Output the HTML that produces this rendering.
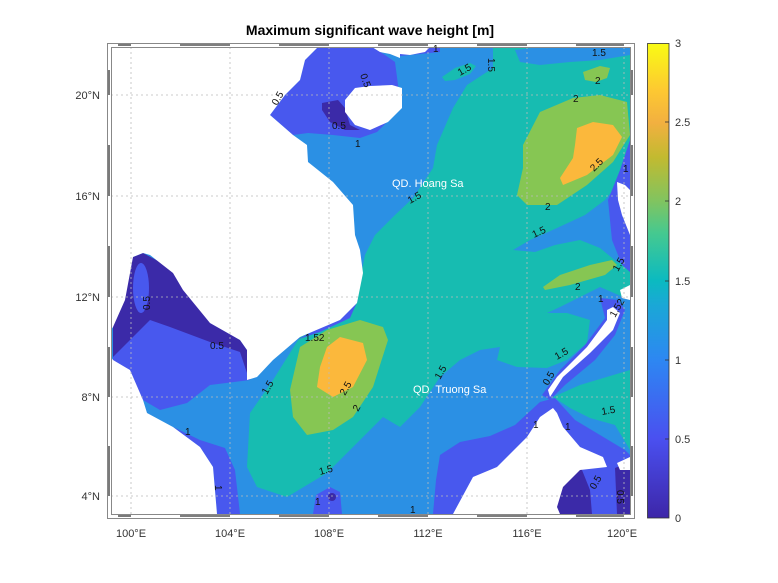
<!DOCTYPE html>
<html><head><meta charset="utf-8"><style>
body{margin:0;background:#fff;}
svg{display:block;font-family:"Liberation Sans",sans-serif;}
</style></head><body>
<svg width="778" height="583" viewBox="0 0 778 583" xmlns="http://www.w3.org/2000/svg">
<defs>
<linearGradient id="cb" x1="0" y1="1" x2="0" y2="0">
<stop offset="0" stop-color="#3d26a8"/>
<stop offset="0.167" stop-color="#4a50f0"/>
<stop offset="0.333" stop-color="#2d87f2"/>
<stop offset="0.45" stop-color="#1aa8d6"/>
<stop offset="0.5" stop-color="#0bbac0"/>
<stop offset="0.6" stop-color="#45c990"/>
<stop offset="0.667" stop-color="#80c460"/>
<stop offset="0.76" stop-color="#c2ba30"/>
<stop offset="0.833" stop-color="#f2b040"/>
<stop offset="0.9" stop-color="#fdc832"/>
<stop offset="1" stop-color="#f9fb14"/>
</linearGradient>
<clipPath id="clip"><rect x="111" y="47" width="519" height="467"/></clipPath>
</defs>
<text x="370" y="35" text-anchor="middle" font-size="14" font-weight="bold">Maximum significant wave height [m]</text>

<g clip-path="url(#clip)">
<rect x="111" y="47" width="519" height="467" fill="#2b90e4"/>
<!-- teal -->
<polygon fill="#17bcb1" points="493,47 630,47 630,300 600,287 580,297 560,307 547,313 567,313 590,320 587,343 567,360 547,368 517,367 497,360 500,347 480,350 460,360 440,377 420,407 400,427 383,417 353,447 327,473 287,497 257,487 247,467 250,413 273,380 300,337 340,322 352,305 360,280 365,255 375,235 395,215 413,198 433,168 437,145 453,108 467,85 493,68"/>
<polygon fill="#17bcb1" points="553,397 580,385 630,370 630,450 615,425 590,418 570,408"/>
<polygon fill="#17bcb1" points="442,77 455,68 470,63 476,66 470,74 455,80 445,81"/>
<!-- blue tongues -->
<polygon fill="#2b90e4" points="515,50 540,47 630,47 630,55 600,60 570,62 540,65 520,62"/>
<polygon fill="#2b90e4" points="513,250 530,240 557,228 585,215 605,200 617,185 630,165 630,268 617,262 600,248 580,240 555,245 535,252"/>
<!-- greens -->
<polygon fill="#86c653" points="523,145 540,112 573,98 600,95 627,102 630,135 613,162 587,185 557,205 527,205 517,195 523,168"/>
<polygon fill="#86c653" points="583,72 600,66 610,68 607,78 596,82 585,80"/>
<polygon fill="#86c653" points="543,287 560,275 590,265 612,260 617,265 605,275 570,285 545,290"/>
<polygon fill="#86c653" points="290,390 300,347 327,330 360,320 383,327 388,340 373,387 353,417 333,430 307,435 293,417"/>
<!-- orange -->
<polygon fill="#fbb83c" points="577,128 593,122 613,125 622,137 613,155 587,175 563,185 560,178 573,158 575,145"/>
<polygon fill="#fbb83c" points="327,347 340,337 363,343 367,360 353,387 333,397 317,387 320,367"/>
<!-- periwinkle -->
<polygon fill="#4858ee" points="270,115 285,95 300,80 305,60 318,47 372,47 385,55 395,62 400,100 393,112 387,122 377,132 360,138 333,135 308,133 293,135"/>
<polygon fill="#4858ee" points="380,47 440,47 440,52 400,56"/>
<polygon fill="#4858ee" points="113,320 133,257 175,270 247,350 250,380 210,385 187,403 160,410 143,400 113,360"/>
<polygon fill="#4858ee" points="173,427 200,440 225,448 235,470 240,514 217,514 213,467 200,447"/>
<polygon fill="#4858ee" points="433,514 436,480 440,455 460,442 490,436 515,425 540,402 555,398 575,420 600,435 625,450 630,455 630,514"/>
<polygon fill="#4858ee" points="313,514 316,495 330,487 340,492 342,514"/>
<polygon fill="#4858ee" points="630,140 620,170 608,200 612,240 622,265 630,272"/>
<polygon fill="#4858ee" points="600,298 618,300 625,310 615,335 595,360 565,385 550,400 542,395 560,370 585,345 605,318"/>
<polygon fill="#4858ee" points="296,340 340,318 352,305 358,300 350,318 320,332"/>
<!-- dark -->
<polygon fill="#3b2aa8" points="322,103 338,100 345,108 350,125 360,130 345,130 330,122 322,110"/>
<polygon fill="#3b2aa8" points="113,320 133,257 143,253 175,270 185,290 210,323 240,340 247,350 247,373 240,352 210,342 170,327 150,320 130,340 113,357"/>
<ellipse cx="141" cy="288" rx="8" ry="25" fill="#4858ee"/>
<polygon fill="#3b2aa8" points="540,470 580,465 590,490 592,514 555,514 545,495"/>
<polygon fill="#3b2aa8" points="615,468 630,462 630,514 617,514"/>
<circle cx="332" cy="497" r="4" fill="#3b2aa8"/>
<!-- land -->
<polygon fill="#fff" points="111,47 318,47 305,60 300,80 285,95 270,115 293,135 307,145 308,162 333,182 353,205 355,235 360,250 363,273 357,303 340,320 300,337 273,360 257,377 247,380 247,350 240,340 210,323 183,290 173,273 150,255 143,253 133,257 125,300 113,327 111,330"/>
<polygon fill="#fff" points="111,357 113,360 130,370 143,400 147,413 173,427 200,447 213,467 217,514 111,514"/>
<polygon fill="#fff" points="345,100 355,88 370,86 392,85 402,88 402,108 388,122 370,130 355,125 345,112"/>
<polygon fill="#fff" points="372,47 400,47 400,58 390,54 380,52"/>
<polygon fill="#fff" points="400,47 430,47 425,52 410,55 400,54"/>
<polygon fill="#fff" points="453,514 473,477 497,467 527,437 540,417 553,408 557,413 563,427 580,447 603,457 607,467 580,470 563,487 557,507 560,514"/>
<polygon fill="#fff" points="613,307 620,313 613,330 590,353 563,377 550,397 548,390 557,377 587,347 607,320 607,310"/>
<polygon fill="#fff" points="617,182 625,185 630,190 630,235 622,215 618,200"/>
<polygon fill="#fff" points="617,463 630,457 630,470 620,470"/>
<polygon fill="#fff" points="620,290 630,285 630,300 622,298"/>
</g>
<!-- grid -->
<g stroke="#bbb" stroke-width="0.8" stroke-dasharray="2,3">
<line x1="131" y1="47" x2="131" y2="514"/><line x1="230" y1="47" x2="230" y2="514"/><line x1="329" y1="47" x2="329" y2="514"/><line x1="428" y1="47" x2="428" y2="514"/><line x1="527" y1="47" x2="527" y2="514"/><line x1="624" y1="47" x2="624" y2="514"/>
<line x1="111" y1="95" x2="630" y2="95"/><line x1="111" y1="196" x2="630" y2="196"/><line x1="111" y1="297" x2="630" y2="297"/><line x1="111" y1="397" x2="630" y2="397"/><line x1="111" y1="496" x2="630" y2="496"/>
</g>
<!-- frame -->
<g fill="none" stroke="#888" stroke-width="1">
<rect x="107.5" y="43.5" width="527" height="475"/>
<rect x="111.5" y="47.5" width="519" height="467"/>
</g>
<g stroke="#333" stroke-width="1.3">
<line x1="118" y1="516" x2="131" y2="516"/><line x1="180" y1="516" x2="230" y2="516"/><line x1="279" y1="516" x2="329" y2="516"/><line x1="378" y1="516" x2="428" y2="516"/><line x1="477" y1="516" x2="527" y2="516"/><line x1="576" y1="516" x2="624" y2="516"/>
<line x1="118" y1="45" x2="131" y2="45"/><line x1="180" y1="45" x2="230" y2="45"/><line x1="279" y1="45" x2="329" y2="45"/><line x1="378" y1="45" x2="428" y2="45"/><line x1="477" y1="45" x2="527" y2="45"/><line x1="576" y1="45" x2="624" y2="45"/>
<line x1="109" y1="70" x2="109" y2="95"/><line x1="109" y1="145" x2="109" y2="196"/><line x1="109" y1="246" x2="109" y2="297"/><line x1="109" y1="347" x2="109" y2="397"/><line x1="109" y1="446" x2="109" y2="496"/>
<line x1="632" y1="70" x2="632" y2="95"/><line x1="632" y1="145" x2="632" y2="196"/><line x1="632" y1="246" x2="632" y2="297"/><line x1="632" y1="347" x2="632" y2="397"/><line x1="632" y1="446" x2="632" y2="496"/>
</g>
<!-- axis labels -->
<g font-size="11" fill="#333" text-anchor="middle">
<text x="131" y="537">100°E</text><text x="230" y="537">104°E</text><text x="329" y="537">108°E</text><text x="428" y="537">112°E</text><text x="527" y="537">116°E</text><text x="622" y="537">120°E</text>
</g>
<g font-size="11" fill="#333" text-anchor="end">
<text x="100" y="99">20°N</text><text x="100" y="200">16°N</text><text x="100" y="301">12°N</text><text x="100" y="401">8°N</text><text x="100" y="500">4°N</text>
</g>
<!-- annotations -->
<text x="392" y="187" font-size="11" fill="#fff">QD. Hoang Sa</text>
<text x="413" y="393" font-size="11" fill="#fff">QD. Truong Sa</text>
<g font-size="10" fill="#111">
<text x="460" y="76" transform="rotate(-30 460 76)">1.5</text>
<text x="488" y="58" transform="rotate(90 488 58)">1.5</text>
<text x="592" y="56">1.5</text>
<text x="595" y="84">2</text>
<text x="573" y="102">2</text>
<text x="545" y="210">2</text>
<text x="594" y="172" transform="rotate(-45 594 172)">2.5</text>
<text x="534" y="238" transform="rotate(-25 534 238)">1.5</text>
<text x="575" y="290">2</text>
<text x="410" y="204" transform="rotate(-30 410 204)">1.5</text>
<text x="355" y="147">1</text>
<text x="332" y="129">0.5</text>
<text x="277" y="106" transform="rotate(-60 277 106)">0.5</text>
<text x="360" y="75" transform="rotate(70 360 75)">0.5</text>
<text x="433" y="52">1</text>
<text x="150" y="310" transform="rotate(-90 150 310)">0.5</text>
<text x="210" y="349">0.5</text>
<text x="267" y="395" transform="rotate(-60 267 395)">1.5</text>
<text x="305" y="341">1.52</text>
<text x="345" y="396" transform="rotate(-60 345 396)">2.5</text>
<text x="358" y="412" transform="rotate(-60 358 412)">2</text>
<text x="320" y="475" transform="rotate(-15 320 475)">1.5</text>
<text x="440" y="380" transform="rotate(-60 440 380)">1.5</text>
<text x="557" y="360" transform="rotate(-30 557 360)">1.5</text>
<text x="602" y="415" transform="rotate(-10 602 415)">1.5</text>
<text x="615" y="318" transform="rotate(-60 615 318)">1.52</text>
<text x="618" y="272" transform="rotate(-60 618 272)">1.5</text>
<text x="548" y="386" transform="rotate(-60 548 386)">0.5</text>
<text x="595" y="490" transform="rotate(-60 595 490)">0.5</text>
<text x="617" y="490" transform="rotate(90 617 490)">0.5</text>
<text x="185" y="435">1</text>
<text x="215" y="485" transform="rotate(90 215 485)">1</text>
<text x="315" y="505">1</text>
<text x="410" y="513">1</text>
<text x="533" y="428">1</text>
<text x="565" y="430">1</text>
<text x="598" y="302">1</text>
<text x="623" y="172">1</text>
</g>
<!-- colorbar -->
<rect x="647.5" y="43.5" width="21.5" height="474.5" fill="url(#cb)" stroke="#333" stroke-width="0.8"/>
<g stroke="#333" stroke-width="0.8">
<line x1="665" y1="122" x2="669" y2="122"/><line x1="665" y1="201" x2="669" y2="201"/><line x1="665" y1="281" x2="669" y2="281"/><line x1="665" y1="360" x2="669" y2="360"/><line x1="665" y1="439" x2="669" y2="439"/>
</g>
<g font-size="11" fill="#333">
<text x="675" y="47">3</text><text x="675" y="126">2.5</text><text x="675" y="205">2</text><text x="675" y="285">1.5</text><text x="675" y="364">1</text><text x="675" y="443">0.5</text><text x="675" y="522">0</text>
</g>
</svg>
</body></html>
